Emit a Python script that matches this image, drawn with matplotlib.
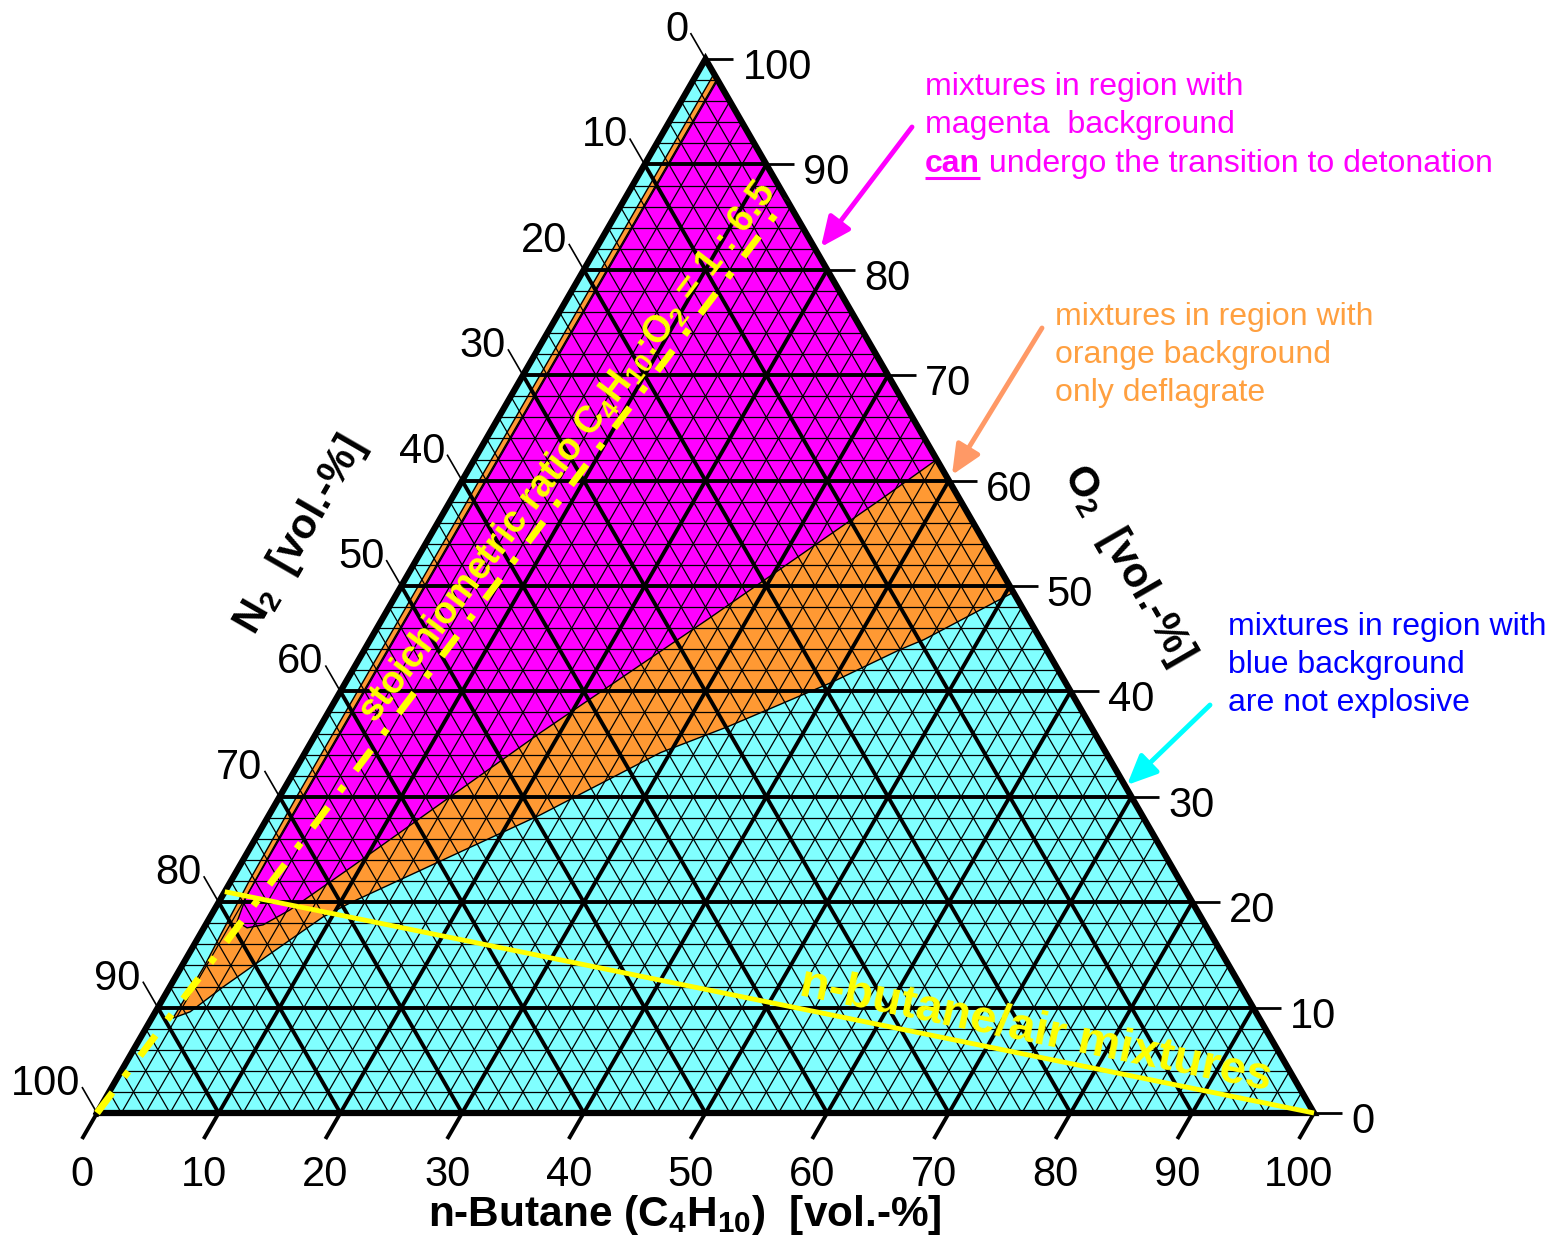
import numpy as np
import matplotlib
matplotlib.use('Agg')
import matplotlib.pyplot as plt
from matplotlib.patches import Polygon

plt.rcParams['font.family'] = ['Liberation Sans', 'DejaVu Sans']
plt.rcParams['mathtext.fontset'] = 'custom'
plt.rcParams['mathtext.rm'] = 'Liberation Sans'
plt.rcParams['mathtext.bf'] = 'Liberation Sans:bold'
plt.rcParams['mathtext.it'] = 'Liberation Sans:italic'

# ---------------- data ----------------
tick_values = list(range(0, 101, 10))
tick_labels = [str(v) for v in tick_values]
minor_values = list(range(2, 100, 2))

# explosive (orange) region outline: n-butane %, O2 %
expl_butane = [1.4, 1.4, 1.5, 1.7, 1.85, 1.8, 1.74, 2.85, 4.38, 6.04, 7.66, 9.28,
               10.84, 22.3, 29.2, 33.5, 39.9, 44.0, 45.5, 50.6]
expl_o2 = [98.6, 30.0, 22.0, 17.0, 14.0, 11.0, 9.0, 9.6, 11.96, 14.24, 16.43, 18.61,
           19.94, 28.3, 34.19, 36.65, 40.83, 43.97, 44.92, 49.4]

# detonable (magenta) region outline: n-butane %, O2 %
det_butane = [1.9, 1.9, 2.0, 2.44, 3.55, 4.72, 6.23, 9.18, 18.39, 26.75, 35.29, 38.0]
det_o2 = [98.1, 26.0, 20.5, 18.14, 17.57, 17.85, 19.28, 23.26, 36.08, 46.82, 58.21, 62.0]

# stoichiometric line C4H10 : O2 = 1 : 6.5 (from pure N2 corner)
stoich_butane = [0.0, 100 / 7.5]
stoich_o2 = [0.0, 650 / 7.5]

# n-butane / air line (air = 21 % O2)
air_butane = [0.0, 100.0]
air_o2 = [21.0, 0.0]

C_CYAN = '#80FFFF'
C_ORANGE = '#FF9933'
C_MAGENTA = '#FF00FF'
C_YELLOW = '#FFFF00'

# ---------------- geometry ----------------
S = 12.17          # pixels per percent
OX, OY = 97, 1113  # pixel position of the N2 corner
W, H = 1550, 1242
SQ = np.sqrt(3) / 2


def tern(b, o):
    b = np.asarray(b, float)
    o = np.asarray(o, float)
    return b + o / 2, o * SQ


def P(x, y):
    """pixel position -> axes data coordinates (for annotations only)"""
    return (x - OX) / S, (OY - y) / S


fig = plt.figure(figsize=(W / 100, H / 100), dpi=100)
ax = fig.add_axes([0, 0, 1, 1])
ax.set_xlim(-OX / S, (W - OX) / S)
ax.set_ylim(-(H - OY) / S, OY / S)
ax.axis('off')

# background triangle
tri = np.array([tern(0, 0), tern(100, 0), tern(0, 100)])
ax.add_patch(Polygon(tri, closed=True, facecolor=C_CYAN, edgecolor='none', zorder=1))

ex, ey = tern(expl_butane, expl_o2)
ax.add_patch(Polygon(np.column_stack([ex, ey]), closed=True, facecolor=C_ORANGE,
                     edgecolor='black', lw=1.0, zorder=2))
dx, dy = tern(det_butane, det_o2)
ax.add_patch(Polygon(np.column_stack([dx, dy]), closed=True, facecolor=C_MAGENTA,
                     edgecolor='black', lw=1.0, zorder=3))


def grid_line(k, lw):
    # constant O2
    x, y = tern([0, 100 - k], [k, k])
    ax.plot(x, y, color='black', lw=lw, zorder=4, solid_capstyle='butt')
    # constant butane
    x, y = tern([k, k], [0, 100 - k])
    ax.plot(x, y, color='black', lw=lw, zorder=4, solid_capstyle='butt')
    # constant N2
    x, y = tern([100 - k, 0], [0, 100 - k])
    ax.plot(x, y, color='black', lw=lw, zorder=4, solid_capstyle='butt')


for k in minor_values:
    if k % 10:
        grid_line(k, 0.9)
for k in tick_values[1:-1]:
    grid_line(k, 2.8)

# border
bx, by = tern([0, 100, 0, 0], [0, 0, 100, 0])
ax.plot(bx, by, color='black', lw=4.5, zorder=5, solid_joinstyle='miter')

# ticks
TL = 30 / S
c60, s60 = 0.5, SQ
TFS = 30
for v, lab in zip(tick_values, tick_labels):
    # bottom: n-butane
    x0, y0 = tern(v, 0)
    x1, y1 = x0 - TL * c60, y0 - TL * s60
    ax.plot([x0, x1], [y0, y1], color='black', lw=2.8, zorder=5, solid_capstyle='butt')
    ax.text(x1, y1 - 36 / S, lab, ha='center', va='center', fontsize=TFS)
    # right: O2
    x0, y0 = tern(100 - v, v)
    x1 = x0 + 28 / S
    ax.plot([x0, x1], [y0, y0], color='black', lw=2.0, zorder=5, solid_capstyle='butt')
    ax.text(x1 + 9 / S, y0 - 9 / S, lab, ha='left', va='center', fontsize=TFS)
    # left: N2
    x0, y0 = tern(0, 100 - v)
    x1, y1 = x0 - TL * c60, y0 + TL * s60
    ax.plot([x0, x1], [y0, y1], color='black', lw=1.2, zorder=5, solid_capstyle='butt')
    ax.text(x1 - 2 / S, y1 + 3 / S, lab, ha='right', va='center', fontsize=TFS)

# yellow lines
sx, sy = tern(stoich_butane, stoich_o2)
ax.plot(sx, sy, color=C_YELLOW, lw=5, linestyle=(0, (3.7, 2.8, 1.0, 2.8)),
        dash_capstyle='butt', zorder=6)
axx, axy = tern(air_butane, air_o2)
ax.plot(axx, axy, color=C_YELLOW, lw=3.5, zorder=6, solid_capstyle='butt')

ang_st = np.degrees(np.arctan2(sy[1] - sy[0], sx[1] - sx[0]))
ang_air = np.degrees(np.arctan2(axy[1] - axy[0], axx[1] - axx[0]))

ax.text(*P(568, 452), r'stoichiometric ratio C$_\mathbf{4}$H$_\mathbf{10}$:O$_\mathbf{2}$ = 1 : 6.5',
        color=C_YELLOW, fontsize=27, fontweight='bold', rotation=ang_st,
        rotation_mode='anchor', ha='center', va='center', zorder=7)
ax.text(*P(1036, 1031), 'n-butane/air mixtures', color=C_YELLOW, fontsize=34,
        fontweight='bold', rotation=ang_air, rotation_mode='anchor',
        ha='center', va='center', zorder=7)

# axis titles
ax.text(*P(685, 1215), r'n-Butane (C$_\mathbf{4}$H$_\mathbf{10}$)  [vol.-%]',
        fontsize=30.5, fontweight='bold', ha='center', va='center')
ax.text(*P(1128, 565), r'O$_\mathbf{2}$  [vol.-%]', fontsize=30, fontweight='bold',
        rotation=-60, rotation_mode='anchor', ha='center', va='center')
ax.text(*P(300, 535), r'N$_\mathbf{2}$  [vol.-%]', fontsize=30, fontweight='bold',
        rotation=60, rotation_mode='anchor', ha='center', va='center')

# annotations
FS = 23
for i, line in enumerate(['mixtures in region with', 'magenta  background']):
    ax.text(*P(925, 95 + 38 * i), line, color=C_MAGENTA, fontsize=FS, va='baseline')
t_can = ax.text(*P(925, 172), 'can', color=C_MAGENTA, fontsize=FS, fontweight='bold',
                va='baseline')
fig.canvas.draw()
bb = t_can.get_window_extent()
inv = ax.transData.inverted()
xr, _ = inv.transform((bb.x1, bb.y0))
xl, _ = inv.transform((bb.x0, bb.y0))
ax.text(xr, P(0, 172)[1], ' undergo the transition to detonation', color=C_MAGENTA,
        fontsize=FS, va='baseline')
uy = P(0, 178)[1]
ax.plot([xl, xr], [uy, uy], color=C_MAGENTA, lw=2.2, solid_capstyle='butt')

for i, line in enumerate(['mixtures in region with', 'orange background', 'only deflagrate']):
    ax.text(*P(1055, 325 + 38 * i), line, color='#FFA040', fontsize=FS, va='baseline')
for i, line in enumerate(['mixtures in region with', 'blue background', 'are not explosive']):
    ax.text(*P(1228, 635 + 38 * i), line, color='#0000FF', fontsize=FS, va='baseline')


def arrow(p_from, p_to, color):
    ax.annotate('', xy=P(*p_to), xytext=P(*p_from),
                arrowprops=dict(arrowstyle='-|>,head_length=1.0,head_width=0.45',
                                color=color, lw=3.5, mutation_scale=18,
                                shrinkA=0, shrinkB=0), zorder=8)


arrow((912, 127), (821, 247), C_MAGENTA)
arrow((1042, 328), (952, 475), '#FF9966')
arrow((1210, 705), (1127, 785), '#00FFFF')

fig.savefig('out.png', dpi=100)
